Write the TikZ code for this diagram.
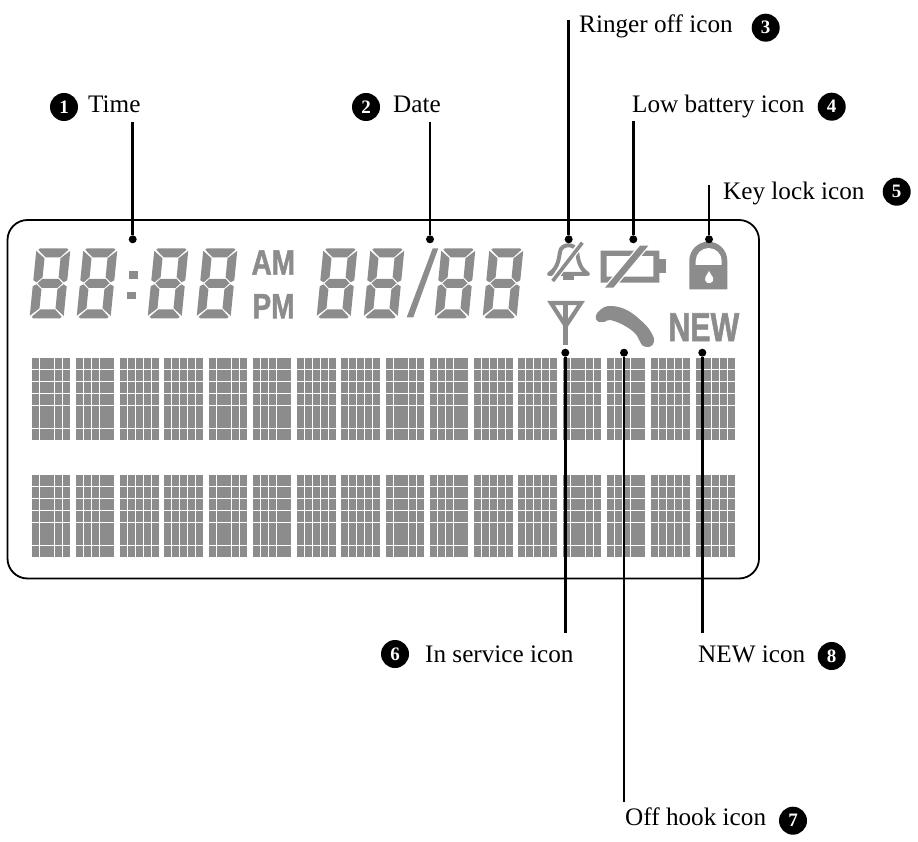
\documentclass[tikz,border=0pt]{standalone}
\usepackage{xcolor}
\usepackage{fontspec}
\setmainfont{Liberation Serif}
\newfontfamily\lcdfont[BoldFeatures={FakeBold=1.6}]{Liberation Sans}
\definecolor{lcdgray}{HTML}{8C8C8C}
\usetikzlibrary{positioning}

\tikzset{
  pics/lcddigit/.style={code={
    \begin{scope}[xslant=0.1]
      \fill[lcdgray] (3,-70) -- (30,-70) -- (31.5,-68.5) -- (24,-61) -- (9.5,-61) -- (1.5,-68.5) -- cycle;
      \fill[lcdgray] (4,-35) -- (8.5,-39.5) -- (24.5,-39.5) -- (29,-35) -- (24.5,-30.5) -- (8.5,-30.5) -- cycle;
      \fill[lcdgray] (3,0) -- (30,0) -- (31.5,-1.5) -- (24,-9) -- (9.5,-9) -- (1.5,-1.5) -- cycle;
      \fill[lcdgray] (-0.5,-67.5) -- (8.5,-60) -- (8.5,-41) -- (3,-36) -- (-0.5,-38) -- cycle;
      \fill[lcdgray] (33.5,-67.5) -- (24.5,-60) -- (24.5,-41) -- (30,-36) -- (33.5,-38) -- cycle;
      \fill[lcdgray] (-0.5,-32) -- (3,-34) -- (8.5,-29) -- (8.5,-10) -- (-0.5,-2.5) -- cycle;
      \fill[lcdgray] (33.5,-32) -- (30,-34) -- (24.5,-29) -- (24.5,-10) -- (33.5,-2.5) -- cycle;
    \end{scope}
  }}
}

\begin{document}
\begin{tikzpicture}[
  x=1pt, y=-1pt,
  lbl/.style={anchor=base west, inner sep=0pt, font=\fontsize{25.2}{28}\selectfont},
  badge/.style={circle, fill=black, text=white, minimum size=28pt, inner sep=0pt,
                font=\fontsize{19}{20}\selectfont\bfseries},
  dot/.style={circle, fill=black, minimum size=8pt, inner sep=0pt},
  lcdtext/.style={inner sep=0pt, text=lcdgray, font=\lcdfont\fontsize{35}{35}\selectfont\bfseries},
  leader/.style={line width=2.6pt, draw=black}
]
\useasboundingbox (0,0) rectangle (918,842);
%% -- Display frame --
\draw[line width=1.8pt, rounded corners=20pt] (7.5,220) rectangle (759,578.5);
%% -- Clock digits --
\foreach \digx in {30,77,148,197,317,364,435,483}
  \pic at (\digx,318.3) {lcddigit};
\fill[lcdgray] (129.3,271) rectangle (138.3,279);
\fill[lcdgray] (126.7,291.7) rectangle (135.7,299.3);
\fill[lcdgray] (406.7,317.3) -- (413.3,317.3) -- (438.3,248.3) -- (432.7,248.3) -- cycle;
\node[lcdtext, xscale=0.8] (amtext) at (273.3,262.5) {AM};
\node[lcdtext, xscale=0.8] (pmtext) at (273.5,306.2) {PM};
%% -- Ringer off icon --
\draw[lcdgray, line width=4pt, line join=round]
  (549,274) .. controls (559,268) and (559,256) .. (560,252)
  .. controls (561,243) and (576,243) .. (577,252)
  .. controls (578,256) and (578,268) .. (588,274) -- cycle;
\fill[lcdgray] (563,276) rectangle (573.5,280);
\draw[white, line width=6.5pt] (583.3,241) -- (553.7,279.3);
\draw[lcdgray, line width=3.6pt] (582.3,242.7) -- (552.7,281);
%% -- Low battery icon --
\fill[lcdgray, even odd rule] (600.7,250.7) rectangle (659.3,282.7) (606.7,256) rectangle (653.3,276.7);
\fill[lcdgray] (659.3,259.3) rectangle (666,272.7);
\draw[white, line width=9pt] (644.1,245.7) -- (609.1,287.7);
\fill[lcdgray] (648.3,245.7) -- (640,245.7) -- (605,287.7) -- (613.3,287.7) -- cycle;
%% -- Key lock icon --
\fill[lcdgray] (689.3,289.3) -- (689.3,260.7) arc[start angle=180, end angle=0, radius=19pt] -- (727.3,289.3) -- cycle;
\fill[white] (695.7,265) -- (695.7,261) arc[start angle=180, end angle=0, radius=13pt] -- (721.7,265) -- cycle;
\fill[white] (709,271) -- (705.5,277) arc[start angle=150, end angle=-330, radius=4.2pt] -- (712.5,277) -- cycle;
%% -- In service icon --
\draw[lcdgray, line width=4.2pt] (551,303) -- (581,303) -- (565.8,326) -- cycle;
\draw[lcdgray, line width=5pt] (565.8,301) -- (565.8,345);
%% -- Off hook icon --
\fill[lcdgray] plot[smooth cycle, tension=.7] coordinates {
  (595.7,316.7) (600,310) (610,306) (626.7,310) (643.3,322.7) (651.7,333.3) (654,341.7)
  (650,346.7) (643.3,346) (640,341.7) (635,333.3) (623.3,325) (610,320) (605,321.7) (598.3,321.7)};
%% -- NEW --
\node[lcdtext, xscale=0.75, font=\lcdfont\fontsize{40.5}{40}\selectfont\bfseries] (newtext) at (703.8,327.2) {NEW};
%% -- Character rows --
\foreach \rowy in {358,475}
  \foreach \charx/\charw/\cuts in {32/38/{7.5,22.5,30.5}, 76/38/{7.5,15.5,23.5}, 120/39/{7.5,15.5,23.5,31.5}, 164/39/{7.5,15.5,23.5,31.5},
                                   209/38/{7.5,22.5,30.5}, 253/38/{7.5,15.5,23.5}, 297/39/{7.5,15.5,23.5,31.5}, 341/39/{7.5,15.5,23.5,31.5},
                                   386/38/{7.5,22.5,30.5}, 430/38/{7.5,15.5,23.5}, 474/39/{7.5,15.5,23.5,31.5}, 518/39/{7.5,15.5,23.5,31.5},
                                   563/38/{7.5,22.5,30.5}, 607/38/{7.5,15.5,23.5}, 651/39/{7.5,15.5,23.5,31.5}, 696/39/{7.5,15.5,23.5,31.5}} {
    \fill[lcdgray] (\charx,\rowy) rectangle ++(\charw,82);
    \foreach \cut in \cuts
      \draw[white, line width=1pt] (\charx+\cut,\rowy) -- ++(0,82);
    \foreach \cut in {11.5,23.5,35.5,47.5,70.5}
      \draw[white, line width=1pt] (\charx,\rowy+\cut) -- ++(\charw,0);
  }
%% -- Labels above --
\node[badge] (numtime) at (64,107) {1};
\node[lbl] (timelbl) at (88,113) {Time};
\node[badge] (numdate) at (366,107) {2};
\node[lbl] (datelbl) at (393,113) {Date};
\node[lbl] (ringerlbl) at (579,33) {Ringer off icon};
\node[badge] (numringer) at (765.7,27.7) {3};
\node[lbl] (batterylbl) at (632,113) {Low battery icon};
\node[badge] (numbattery) at (831.7,106.7) {4};
\node[lbl] (locklbl) at (723,200) {Key lock icon};
\node[badge] (numlock) at (896.7,191.7) {5};
%% -- Labels below --
\node[badge] (numservice) at (395,654) {6};
\node[lbl] (servicelbl) at (425,662) {In service icon};
\node[lbl] (hooklbl) at (625,825) {Off hook icon};
\node[badge] (numhook) at (793,820.7) {7};
\node[lbl] (newlbl) at (698,662) {NEW icon};
\node[badge] (numnew) at (831.7,656) {8};
%% -- Leader ends --
\coordinate (timeend) at (132.7,122);
\coordinate (dateend) at (430,122);
\coordinate (ringerend) at (568.7,20);
\coordinate (batteryend) at (633.3,121);
\coordinate (lockend) at (709,185);
\coordinate (serviceend) at (565.3,633);
\coordinate (hookend) at (624,802);
\coordinate (newend) at (702.3,633);
%% -- Leader dots --
\node[dot] (timedot) at (132.7,239.3) {};
\node[dot] (datedot) at (430,239.3) {};
\node[dot] (ringerdot) at (568.7,239.3) {};
\node[dot] (batterydot) at (633.3,239.3) {};
\node[dot] (lockdot) at (709,239.3) {};
\node[dot] (servicedot) at (565.3,352.7) {};
\node[dot] (hookdot) at (624,352.7) {};
\node[dot] (newdot) at (702.3,352.7) {};
%% -- Leaders --
\draw[leader] (timeend) -- (timedot);
\draw[leader] (dateend) -- (datedot);
\draw[leader] (ringerend) -- (ringerdot);
\draw[leader] (batteryend) -- (batterydot);
\draw[leader] (lockend) -- (lockdot);
\draw[leader] (serviceend) -- (servicedot);
\draw[leader] (hookend) -- (hookdot);
\draw[leader] (newend) -- (newdot);
\end{tikzpicture}
\end{document}
